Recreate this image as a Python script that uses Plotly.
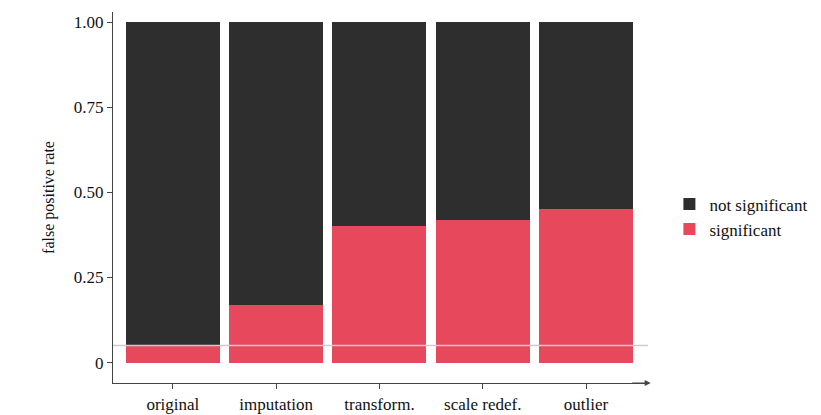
import plotly.graph_objects as go

categories = ["original", "imputation", "transform.", "scale redef.", "outlier"]
significant = [0.05, 0.17, 0.40, 0.42, 0.45]
not_significant = [1 - v for v in significant]
ytick_vals = [0, 0.25, 0.5, 0.75, 1.0]
ytick_text = ["0", "0.25", "0.50", "0.75", "1.00"]
alpha = 0.05

fig = go.Figure()
fig.add_bar(x=categories, y=significant, name="significant", marker_color="#e8485c", marker_line_width=0)
fig.add_bar(x=categories, y=not_significant, name="not significant", marker_color="#2e2e2e", marker_line_width=0)
fig.add_shape(type="line", xref="paper", x0=0, x1=1, yref="y", y0=alpha, y1=alpha,
              line=dict(color="#cccccc", width=1.5))
font = dict(family="Liberation Serif, Times New Roman, serif", size=17, color="#111")
fig.update_layout(
    barmode="stack", bargap=0.09, width=821, height=415,
    margin=dict(l=105, r=181, t=4, b=40),
    plot_bgcolor="white", paper_bgcolor="white", font=font,
    legend=dict(x=1.04, y=0.53, xanchor="left", yanchor="top", traceorder="reversed",
                font=dict(size=17), itemwidth=30),
    xaxis=dict(range=[-0.58, 4.6], showline=True, linecolor="#444", linewidth=1.2,
               ticks="outside", ticklen=5, tickcolor="#444", showgrid=False),
    yaxis=dict(range=[-0.06, 1.03], tickvals=ytick_vals, ticktext=ytick_text,
               showline=True, linecolor="#444", linewidth=1.2, ticks="outside", ticklen=5,
               tickcolor="#444", showgrid=False, zeroline=False,
               title=dict(text="false positive rate", font=dict(size=16))),
)
fig.add_annotation(xref="paper", yref="paper", x=1.005, y=0, ax=-20, ay=0, axref="pixel", ayref="pixel",
                   showarrow=True, arrowhead=2, arrowsize=1, arrowwidth=1.2, arrowcolor="#444", text="")
fig.write_html("out.html")
